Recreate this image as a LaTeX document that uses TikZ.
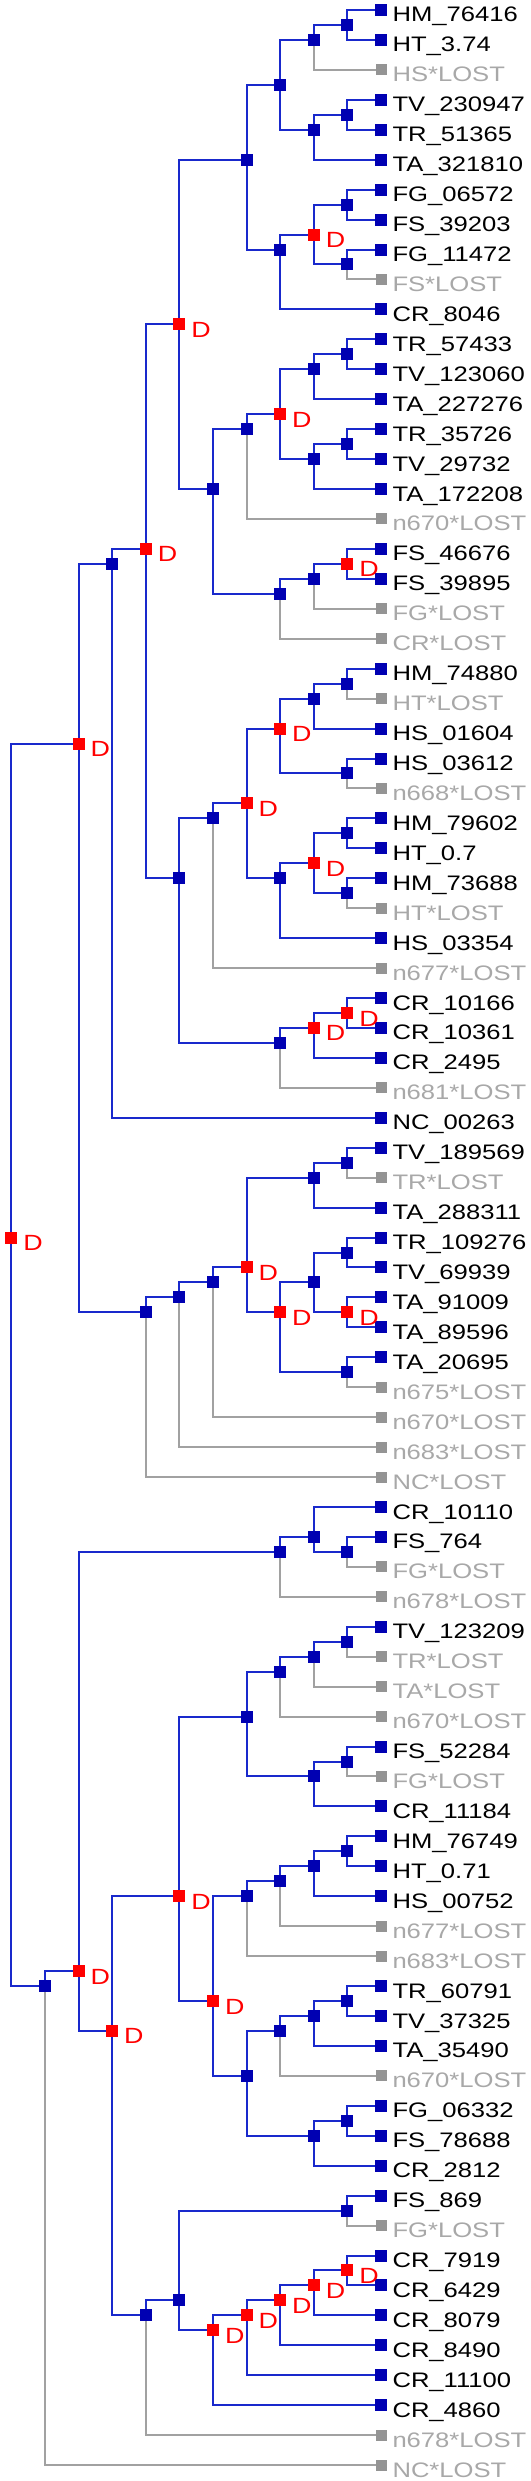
\documentclass[tikz,border=0pt]{standalone}
\usepackage{xcolor}
\usepackage{fontspec}
\setmainfont{Liberation Sans}[FakeStretch=1.22]
\usepackage{tikz}
\usetikzlibrary{calc}
\definecolor{treeblue}{rgb}{0.10, 0.16, 0.80}
\definecolor{nodeblue}{rgb}{0, 0, 0.70}
\definecolor{lostgray}{rgb}{0.63, 0.63, 0.63}
\definecolor{lostsq}{rgb}{0.58, 0.58, 0.58}
\definecolor{losttext}{rgb}{0.66, 0.66, 0.66}

\begin{document}
\begin{tikzpicture}[x=33.6pt, y=-29.94pt,
		every node/.style={inner sep=0pt, outer sep=0pt},
		spec/.style={fill=nodeblue, minimum size=12pt},
		dup/.style={fill=red, minimum size=12pt, label={[duptxt]right:D}},
		leafsq/.style={fill=nodeblue, minimum size=12pt},
		lostleaf/.style={fill=lostsq, minimum size=11pt},
		leaftxt/.style={font=\fontsize{21pt}{21pt}\selectfont, anchor=base west, xshift=5.5pt, yshift=-12pt},
		losttxt/.style={font=\fontsize{21pt}{21pt}\selectfont, anchor=base west, xshift=6pt, yshift=-12pt, text=losttext},
		duptxt/.style={font=\fontsize{22pt}{22pt}\selectfont, anchor=base west, xshift=6pt, yshift=-13pt, text=red},
		br/.style={draw=treeblue, line width=2pt},
		brlost/.style={draw=lostgray, line width=2pt}]
		\useasboundingbox (-11.4pt,-19.94pt) rectangle (518.6pt,-2500.94pt);
		\pgfmathsetmacro{\leafx}{11}
		
		%% leaves
		\foreach \i/\nm in {1/HM\_76416, 2/HT\_3.74, 4/TV\_230947, 5/TR\_51365, 6/TA\_321810, 7/FG\_06572, 8/FS\_39203, 9/FG\_11472, 11/CR\_8046, 12/TR\_57433, 13/TV\_123060, 14/TA\_227276, 15/TR\_35726, 16/TV\_29732, 17/TA\_172208, 19/FS\_46676, 20/FS\_39895, 23/HM\_74880, 25/HS\_01604, 26/HS\_03612, 28/HM\_79602, 29/HT\_0.7, 30/HM\_73688, 32/HS\_03354, 34/CR\_10166, 35/CR\_10361, 36/CR\_2495, 38/NC\_00263, 39/TV\_189569, 41/TA\_288311, 42/TR\_109276, 43/TV\_69939, 44/TA\_91009, 45/TA\_89596, 46/TA\_20695, 51/CR\_10110, 52/FS\_764, 55/TV\_123209, 59/FS\_52284, 61/CR\_11184, 62/HM\_76749, 63/HT\_0.71, 64/HS\_00752, 67/TR\_60791, 68/TV\_37325, 69/TA\_35490, 71/FG\_06332, 72/FS\_78688, 73/CR\_2812, 74/FS\_869, 76/CR\_7919, 77/CR\_6429, 78/CR\_8079, 79/CR\_8490, 80/CR\_11100, 81/CR\_4860}
			\node[leafsq, label={[leaftxt]right:\nm}] (l\i) at (\leafx,\i) {};
		\foreach \i/\nm in {3/HS*LOST, 10/FS*LOST, 18/n670*LOST, 21/FG*LOST, 22/CR*LOST, 24/HT*LOST, 27/n668*LOST, 31/HT*LOST, 33/n677*LOST, 37/n681*LOST, 40/TR*LOST, 47/n675*LOST, 48/n670*LOST, 49/n683*LOST, 50/NC*LOST, 53/FG*LOST, 54/n678*LOST, 56/TR*LOST, 57/TA*LOST, 58/n670*LOST, 60/FG*LOST, 65/n677*LOST, 66/n683*LOST, 70/n670*LOST, 75/FG*LOST, 82/n678*LOST, 83/NC*LOST}
			\node[lostleaf, label={[losttxt]right:\nm}] (l\i) at (\leafx,\i) {};
		
		%% upper subtree
		\node[spec] (a1) at (10,1.5) {};
		\node[spec] (a2) at (9,2) {};
		\node[spec] (a3) at (10,4.5) {};
		\node[spec] (a4) at (9,5) {};
		\node[spec] (a5) at (8,3.5) {};
		\node[spec] (a6) at (10,7.5) {};
		\node[spec] (a7) at (10,9.5) {};
		\node[dup] (a8) at (9,8.5) {};
		\node[spec] (a9) at (8,9) {};
		\node[spec] (a10) at (7,6) {};
		\node[spec] (b1) at (10,12.5) {};
		\node[spec] (b2) at (9,13) {};
		\node[spec] (b3) at (10,15.5) {};
		\node[spec] (b4) at (9,16) {};
		\node[dup] (b5) at (8,14.5) {};
		\node[spec] (b6) at (7,15) {};
		\node[dup] (c1) at (10,19.5) {};
		\node[spec] (c2) at (9,20) {};
		\node[spec] (c3) at (8,20.5) {};
		\node[spec] (b7) at (6,17) {};
		\node[dup] (a11) at (5,11.5) {};
		\node[spec] (d1) at (10,23.5) {};
		\node[spec] (d2) at (9,24) {};
		\node[spec] (d3) at (10,26.5) {};
		\node[dup] (d4) at (8,25) {};
		\node[spec] (d5) at (10,28.5) {};
		\node[spec] (d6) at (10,30.5) {};
		\node[dup] (d7) at (9,29.5) {};
		\node[spec] (d8) at (8,30) {};
		\node[dup] (d9) at (7,27.5) {};
		\node[spec] (d10) at (6,28) {};
		\node[dup] (e1) at (10,34.5) {};
		\node[dup] (e2) at (9,35) {};
		\node[spec] (e3) at (8,35.5) {};
		\node[spec] (d11) at (5,30) {};
		\node[dup] (g1) at (4,19) {};
		\node[spec] (g2) at (3,19.5) {};
		\node[spec] (f1) at (10,39.5) {};
		\node[spec] (f2) at (9,40) {};
		\node[spec] (f3) at (10,42.5) {};
		\node[dup] (f4) at (10,44.5) {};
		\node[spec] (f5) at (9,43.5) {};
		\node[spec] (f6) at (10,46.5) {};
		\node[dup] (f7) at (8,44.5) {};
		\node[dup] (f8) at (7,43) {};
		\node[spec] (f9) at (6,43.5) {};
		\node[spec] (f10) at (5,44) {};
		\node[spec] (f11) at (4,44.5) {};
		\node[dup] (g3) at (2,25.5) {};
		
		%% lower subtree
		\node[spec] (p1) at (10,52.5) {};
		\node[spec] (p2) at (9,52) {};
		\node[spec] (p3) at (8,52.5) {};
		\node[spec] (i1) at (10,55.5) {};
		\node[spec] (i2) at (9,56) {};
		\node[spec] (i3) at (8,56.5) {};
		\node[spec] (i4) at (10,59.5) {};
		\node[spec] (i5) at (9,60) {};
		\node[spec] (i6) at (7,58) {};
		\node[spec] (j1) at (10,62.5) {};
		\node[spec] (j2) at (9,63) {};
		\node[spec] (j3) at (8,63.5) {};
		\node[spec] (j4) at (7,64) {};
		\node[spec] (j5) at (10,67.5) {};
		\node[spec] (j6) at (9,68) {};
		\node[spec] (j7) at (8,68.5) {};
		\node[spec] (j8) at (10,71.5) {};
		\node[spec] (j9) at (9,72) {};
		\node[spec] (j10) at (7,70) {};
		\node[dup] (j11) at (6,67.5) {};
		\node[dup] (i7) at (5,64) {};
		\node[spec] (m1) at (10,74.5) {};
		\node[dup] (m2) at (10,76.5) {};
		\node[dup] (m3) at (9,77) {};
		\node[dup] (m4) at (8,77.5) {};
		\node[dup] (m5) at (7,78) {};
		\node[dup] (m6) at (6,78.5) {};
		\node[spec] (m7) at (5,77.5) {};
		\node[spec] (m8) at (4,78) {};
		\node[dup] (k1) at (3,68.5) {};
		\node[dup] (k2) at (2,66.5) {};
		\node[spec] (k3) at (1,67) {};
		\node[dup] (root) at (0,42) {};
		
		%% branches
		\foreach \p/\c in {a1/l1, a1/l2, a2/a1, a3/l4, a3/l5, a4/a3, a4/l6, a5/a2, a5/a4, a6/l7, a6/l8, a7/l9, a8/a6, a8/a7, a9/a8, a9/l11, a10/a5, a10/a9,
			b1/l12, b1/l13, b2/b1, b2/l14, b3/l15, b3/l16, b4/b3, b4/l17, b5/b2, b5/b4, b6/b5, c1/l19, c1/l20, c2/c1, c3/c2, b7/b6, b7/c3, a11/a10, a11/b7,
			d1/l23, d2/d1, d2/l25, d3/l26, d4/d2, d4/d3, d5/l28, d5/l29, d6/l30, d7/d5, d7/d6, d8/d7, d8/l32, d9/d4, d9/d8, d10/d9, e1/l34, e1/l35, e2/e1, e2/l36, e3/e2, d11/d10, d11/e3, g1/a11, g1/d11, g2/g1, g2/l38,
			f1/l39, f2/f1, f2/l41, f3/l42, f3/l43, f4/l44, f4/l45, f5/f3, f5/f4, f6/l46, f7/f5, f7/f6, f8/f2, f8/f7, f9/f8, f10/f9, f11/f10, g3/g2, g3/f11, root/g3, root/k3,
			p1/l52, p2/l51, p2/p1, p3/p2, i1/l55, i2/i1, i3/i2, i4/l59, i5/i4, i5/l61, i6/i3, i6/i5,
			j1/l62, j1/l63, j2/j1, j2/l64, j3/j2, j4/j3, j5/l67, j5/l68, j6/j5, j6/l69, j7/j6, j8/l71, j8/l72, j9/j8, j9/l73, j10/j7, j10/j9, j11/j4, j11/j10, i7/i6, i7/j11,
			m1/l74, m2/l76, m2/l77, m3/m2, m3/l78, m4/m3, m4/l79, m5/m4, m5/l80, m6/m5, m6/l81, m7/m1, m7/m6, m8/m7, k1/i7, k1/m8, k2/p3, k2/k1, k3/k2}
			\draw[br] (\p) |- (\c);
		\foreach \p/\c in {a2/l3, a7/l10, b6/l18, c2/l21, c3/l22, d1/l24, d3/l27, d6/l31, d10/l33, e3/l37, f1/l40, f6/l47, f9/l48, f10/l49, f11/l50, p1/l53, p3/l54, i1/l56, i2/l57, i3/l58, i4/l60, j3/l65, j4/l66, j7/l70, m1/l75, m8/l82, k3/l83}
			\draw[brlost] (\p) |- (\c);
\end{tikzpicture}
\end{document}
